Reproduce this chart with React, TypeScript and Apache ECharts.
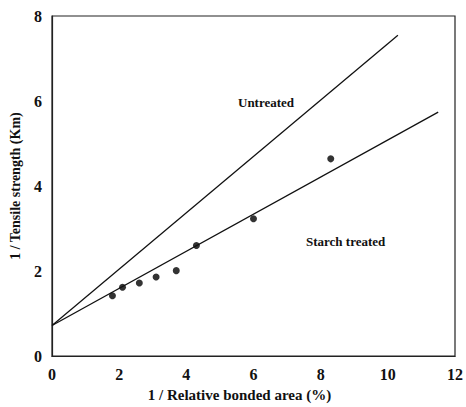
import React, { useEffect, useRef } from "react";
import * as echarts from "echarts";

const starchPoints: [number, number][] = [
  [1.8, 1.42], [2.1, 1.62], [2.6, 1.72], [3.1, 1.86], [3.7, 2.01], [4.3, 2.6], [6.0, 3.23], [8.3, 4.64],
];
const untreatedLine: [number, number][] = [[0, 0.72], [10.3, 7.55]];
const starchLine: [number, number][] = [[0, 0.72], [11.5, 5.74]];

const FONT = "'Liberation Serif', 'Times New Roman', serif";

export default function App() {
  const ref = useRef<HTMLDivElement>(null);
  useEffect(() => {
    const chart = echarts.init(ref.current!, undefined, { renderer: "svg" });
    chart.setOption({
      animation: false,
      backgroundColor: "#fff",
      grid: { left: 49, top: 16, right: 9, bottom: 46, show: true, borderColor: "#222", borderWidth: 1.2 },
      xAxis: {
        type: "value", min: 0, max: 12, interval: 2,
        name: "1 / Relative bonded area (%)", nameLocation: "middle", nameGap: 30,
        nameTextStyle: { fontFamily: FONT, fontWeight: "bold", fontSize: 15, color: "#111", padding: [0, 28, 0, 0] },
        axisLine: { lineStyle: { color: "#222", width: 1.2 } },
        axisTick: { show: false },
        splitLine: { show: false },
        axisLabel: { fontFamily: FONT, fontWeight: "bold", fontSize: 16, color: "#111", margin: 10 },
      },
      yAxis: {
        type: "value", min: 0, max: 8, interval: 2,
        name: "1 / Tensile strength (Km)", nameLocation: "middle", nameGap: 30,
        nameTextStyle: { fontFamily: FONT, fontWeight: "bold", fontSize: 14, color: "#111" },
        axisLine: { show: true, lineStyle: { color: "#222", width: 1.2 } },
        axisTick: { show: false },
        splitLine: { show: false },
        axisLabel: { fontFamily: FONT, fontWeight: "bold", fontSize: 16, color: "#111", margin: 10 },
      },
      series: [
        {
          type: "line", data: untreatedLine, showSymbol: false, symbol: "none",
          lineStyle: { color: "#111", width: 1.3 },
        },
        {
          type: "line", data: starchLine, showSymbol: false, symbol: "none",
          lineStyle: { color: "#111", width: 1.3 },
        },
        {
          type: "scatter", data: starchPoints, symbol: "circle", symbolSize: 7,
          itemStyle: { color: "#000" },
        },
      ],
      graphic: [
        { type: "text", left: 238, top: 96, style: { text: "Untreated", fontFamily: FONT, fontWeight: "bold", fontSize: 13, fill: "#111" } },
        { type: "text", left: 306, top: 235, style: { text: "Starch treated", fontFamily: FONT, fontWeight: "bold", fontSize: 13, fill: "#111" } },
      ],
    });
    return () => chart.dispose();
  }, []);
  return <div ref={ref} style={{ width: 466, height: 407, position: "absolute", left: 0, top: 0 }} />;
}
